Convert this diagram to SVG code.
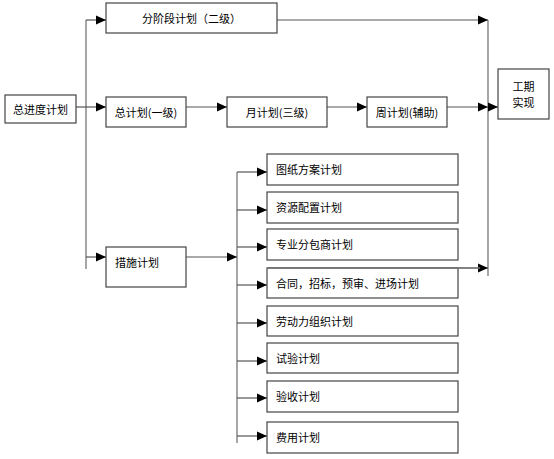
<svg xmlns="http://www.w3.org/2000/svg" width="554" height="459" viewBox="0 0 554 459">
<defs>
<marker id="ah" markerUnits="userSpaceOnUse" markerWidth="10" markerHeight="10" refX="10" refY="5" orient="auto">
<path d="M0,0.5 L10,5 L0,9.5 z" fill="#000"/>
</marker>
<style>
.box{fill:#fff;stroke:#444;stroke-width:1.2}
.ln{fill:none;stroke:#777;stroke-width:1.3}
.ar{fill:none;stroke:#555;stroke-width:1.2;marker-end:url(#ah)}
text{font-family:"Noto Sans CJK SC","Noto Sans",sans-serif;font-size:11px;fill:#000;dominant-baseline:central}
.c{text-anchor:middle}
</style>
</defs>
<rect width="554" height="459" fill="#fff"/>
<g id="connectors">
<line class="ln" x1="86" y1="20" x2="86" y2="269"/>
<line class="ln" x1="488" y1="20" x2="488" y2="276"/>
<line class="ln" x1="237" y1="172" x2="237" y2="443"/>
<line class="ar" x1="86" y1="20" x2="106" y2="20"/>
<line class="ar" x1="277" y1="20" x2="488" y2="20"/>
<line class="ar" x1="76" y1="107" x2="106" y2="107"/>
<line class="ar" x1="186" y1="107" x2="227" y2="107"/>
<line class="ar" x1="327" y1="107" x2="367" y2="107"/>
<line class="ar" x1="447" y1="107" x2="488" y2="107"/>
<line class="ar" x1="488" y1="107" x2="498" y2="107"/>
<line class="ar" x1="86" y1="257" x2="106" y2="257"/>
<line class="ar" x1="186" y1="257" x2="237" y2="257"/>
<line class="ar" x1="267" y1="268" x2="488" y2="268"/>
<line class="ar" x1="237" y1="172" x2="267" y2="172"/>
<line class="ar" x1="237" y1="210" x2="267" y2="210"/>
<line class="ar" x1="237" y1="247" x2="267" y2="247"/>
<line class="ar" x1="237" y1="285" x2="267" y2="285"/>
<line class="ar" x1="237" y1="323" x2="267" y2="323"/>
<line class="ar" x1="237" y1="361" x2="267" y2="361"/>
<line class="ar" x1="237" y1="398" x2="267" y2="398"/>
<line class="ar" x1="237" y1="436" x2="267" y2="436"/>
</g>
<g id="n-zjd"><rect class="box" x="5" y="95" width="71" height="28"/><text class="c" x="40.5" y="109">总进度计划</text></g>
<g id="n-fjd"><rect class="box" x="106" y="3" width="171" height="30"/><text class="c" x="191.5" y="18">分阶段计划（二级）</text></g>
<g id="n-zjh"><rect class="box" x="106" y="97" width="80" height="30"/><text class="c" x="146" y="112">总计划(一级)</text></g>
<g id="n-yjh"><rect class="box" x="227" y="97" width="100" height="30"/><text class="c" x="277" y="112">月计划(三级)</text></g>
<g id="n-zhou"><rect class="box" x="367" y="97" width="80" height="30"/><text class="c" x="407" y="112">周计划(辅助)</text></g>
<g id="n-gq"><rect class="box" x="498" y="69" width="51" height="50"/><text class="c" x="523.5" y="86">工期</text><text class="c" x="523.5" y="102">实现</text></g>
<g id="n-cs"><rect class="box" x="106" y="247" width="80" height="40"/><text x="115" y="262">措施计划</text></g>
<g id="n-s1"><rect class="box" x="267" y="154" width="191" height="31"/><text x="276" y="169">图纸方案计划</text></g>
<g id="n-s2"><rect class="box" x="267" y="192" width="191" height="31"/><text x="276" y="207">资源配置计划</text></g>
<g id="n-s3"><rect class="box" x="267" y="229" width="191" height="31"/><text x="276" y="244">专业分包商计划</text></g>
<g id="n-s4"><rect class="box" x="267" y="268" width="191" height="30"/><text x="276" y="283">合同，招标，预审、进场计划</text></g>
<g id="n-s5"><rect class="box" x="267" y="306" width="191" height="30"/><text x="276" y="321">劳动力组织计划</text></g>
<g id="n-s6"><rect class="box" x="267" y="343" width="191" height="30"/><text x="276" y="358">试验计划</text></g>
<g id="n-s7"><rect class="box" x="267" y="381" width="191" height="31"/><text x="276" y="396">验收计划</text></g>
<g id="n-s8"><rect class="box" x="267" y="422" width="191" height="31"/><text x="276" y="437">费用计划</text></g>
<line class="ln" x1="267" y1="268" x2="480" y2="268" stroke="#555"/>
</svg>
